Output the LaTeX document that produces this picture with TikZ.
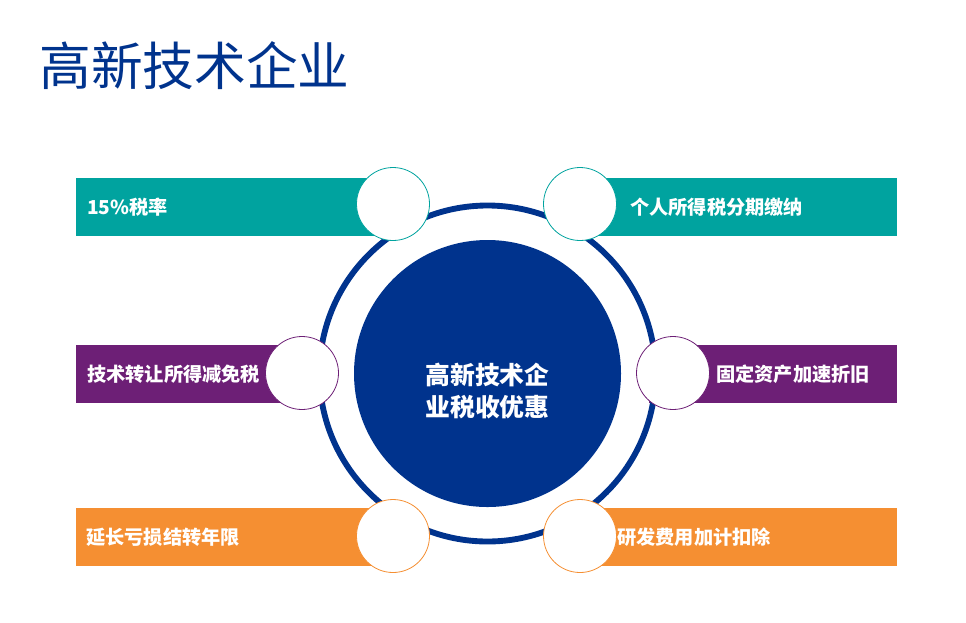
\documentclass[tikz,border=0pt]{standalone}
\usepackage{fontspec}
\setmainfont{Noto Sans CJK SC}
\usepackage{xcolor}
\usepackage{tikz}
\usetikzlibrary{positioning}

\definecolor{navy}{HTML}{00338D}
\definecolor{tealbar}{HTML}{00A39F}
\definecolor{plumbar}{HTML}{6D1F76}
\definecolor{orangebar}{HTML}{F58F32}

\begin{document}
\begin{tikzpicture}[
  x=0.75pt, y=-0.75pt,
  every node/.style={font=\bfseries\fontsize{14.4}{17}\selectfont, text=white},
  bar/.style={rectangle, inner sep=0pt, minimum height=43.5pt},
  hole/.style={circle, fill=white, line width=0.6pt, inner sep=0pt,
               minimum size=54.75pt},
  tag/.style={anchor=west, inner sep=0pt},
]
\useasboundingbox (0,0) rectangle (966,622);

% title
\node[anchor=base west, inner sep=0pt, text=navy,
      font=\fontsize{38.8}{44}\selectfont] (title) at (39,85) {高新技术企业};

% bars
\node[bar, fill=tealbar,   minimum width=237.75pt] (barA) at (234.5,207) {};
\node[bar, fill=tealbar,   minimum width=237.75pt] (barB) at (738.5,207) {};
\node[bar, fill=plumbar,   minimum width=169.5pt]  (barC) at (189,374) {};
\node[bar, fill=plumbar,   minimum width=186pt]    (barD) at (773,374) {};
\node[bar, fill=orangebar, minimum width=237.75pt] (barE) at (234.5,537) {};
\node[bar, fill=orangebar, minimum width=237.75pt] (barF) at (738.5,537) {};

% ring and core
\node[circle, draw=navy, line width=4.4pt, inner sep=0pt,
      minimum size=252pt] (ring) at (487.5,373.5) {};
\node[circle, fill=navy, inner sep=0pt, minimum size=200.25pt]
      (core) at (487.5,373.5) {};
\node[align=center, font=\bfseries\fontsize{18.6}{23.8}\selectfont]
      (coretxt) at (487.5,391) {高新技术企\\业税收优惠};

% holes
\node[hole, draw=tealbar]   (holeA) at (393,204) {};
\node[hole, draw=tealbar]   (holeB) at (580,204) {};
\node[hole, draw=plumbar]   (holeC) at (302,373) {};
\node[hole, draw=plumbar]   (holeD) at (673,373) {};
\node[hole, draw=orangebar] (holeE) at (393,536) {};
\node[hole, draw=orangebar] (holeF) at (580,536) {};

% labels
\node[tag] (tagA) at (87,207)  {15\%税率};
\node[tag] (tagB) at (630,207) {个人所得税分期缴纳};
\node[tag] (tagC) at (87,374)  {技术转让所得减免税};
\node[tag] (tagD) at (716,374) {固定资产加速折旧};
\node[tag] (tagE) at (86,537)  {延长亏损结转年限};
\node[tag] (tagF) at (617,537) {研发费用加计扣除};
\end{tikzpicture}
\end{document}
